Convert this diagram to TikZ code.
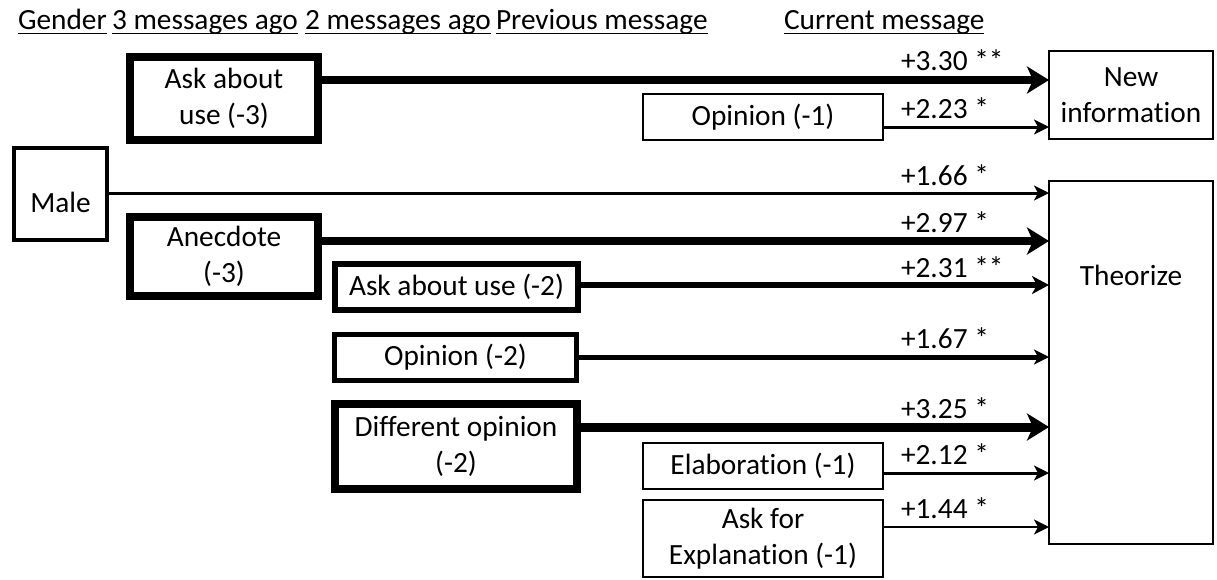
\documentclass[tikz,border=0pt]{standalone}
\usepackage{fontspec}
\setmainfont[Ligatures=NoCommon]{Carlito}
\usetikzlibrary{arrows.meta}
\newcommand{\tnolig}{t\kern0pt i}
\begin{document}
\begin{tikzpicture}[x=1pt,y=-1pt,
  every node/.style={font=\fontsize{29.33}{35.8}\selectfont, inner sep=0pt, outer sep=0pt},
  box/.style={draw, align=center, rectangle},
  hdr/.style={anchor=base west},
  lbl/.style={anchor=base west},
  tipS/.style={-{Stealth[length=15pt,width=15pt,inset=4pt]}},
  tipM/.style={-{Stealth[length=17pt,width=18pt,inset=5pt]}},
  tipL/.style={-{Stealth[length=22pt,width=27pt,inset=6pt]}},
  uline/.style={line width=1.8pt}
]
\useasboundingbox (0,0) rectangle (1217,579);

% headers
\node[hdr] (h1) at (18,29) {Gender};
\node[hdr] (h2) at (112,29) {3 messages ago};
\node[hdr] (h3) at (305,29) {2 messages ago};
\node[hdr] (h4) at (496,29) {Previous message};
\node[hdr] (h5) at (784,29) {Current message};
\foreach \h in {h1,h2,h3,h4,h5}
  \draw[uline] ([yshift=-4.5pt]\h.base west) -- ([yshift=-4.5pt]\h.base east);

% boxes
\node[box, line width=8pt, minimum width=188pt, minimum height=83pt] (askuseA) at (224,98.5) {Ask about\\use (-3)};
\node[box, line width=4pt, minimum width=93pt, minimum height=92pt] (male) at (60.5,194) {};
\node[anchor=base] (maleT) at (60.5,212) {Male};
\node[box, line width=8pt, minimum width=188pt, minimum height=79pt] (anec) at (224,256.5) {Anecdote\\(-3)};
\node[box, line width=6pt, minimum width=243pt, minimum height=46pt] (askuseB) at (456.5,287) {Ask about use (-2)};
\node[box, line width=5pt, minimum width=242pt, minimum height=46pt] (opinB) at (455.5,357.5) {Opinion (-2)};
\node[box, line width=8pt, minimum width=242pt, minimum height=85pt] (diffop) at (456,446.5) {Different opinion\\(-2)};
\node[box, line width=2pt, minimum width=240pt, minimum height=46pt] (opinC) at (763,117) {Opinion (-1)};
\node[box, line width=2pt, minimum width=240pt, minimum height=46pt] (elab) at (763,466) {Elabora\tnolig on (-1)};
\node[box, line width=2pt, minimum width=240pt, minimum height=77pt] (askexp) at (763,538.5) {Ask for\\Explana\tnolig on (-1)};
\node[box, line width=2pt, minimum width=164pt, minimum height=88pt] (newinfo) at (1131,95) {New\\informa\tnolig on};
\node[box, line width=2pt, minimum width=164pt, minimum height=363pt] (theor) at (1131,362.5) {};
\node[anchor=base] (theorT) at (1131,285) {Theorize};

% connectors
\draw[line width=8pt, tipL] (askuseA.east |- 0,80) -- (newinfo.west |- 0,80);
\draw[line width=3pt, tipS] (opinC.east |- 0,127) -- (newinfo.west |- 0,127);
\draw[line width=3pt, tipS] (male.east |- 0,193) -- (theor.west |- 0,193);
\draw[line width=8pt, tipL] (anec.east |- 0,241) -- (theor.west |- 0,241);
\draw[line width=6pt, tipM] (askuseB.east |- 0,285) -- (theor.west |- 0,285);
\draw[line width=5pt, tipS] (opinB.east |- 0,357) -- (theor.west |- 0,357);
\draw[line width=9pt, tipL] (diffop.east |- 0,427) -- (theor.west |- 0,427);
\draw[line width=3pt, tipS] (elab.east |- 0,473) -- (theor.west |- 0,473);
\draw[line width=2pt, tipS] (askexp.east |- 0,527) -- (theor.west |- 0,527);

% labels
\node[lbl] (l1) at (901,70) {+3.30 **};
\node[lbl] (l2) at (901,118) {+2.23 *};
\node[lbl] (l3) at (901,185) {+1.66 *};
\node[lbl] (l4) at (901,232) {+2.97 *};
\node[lbl] (l5) at (901,277) {+2.31 **};
\node[lbl] (l6) at (901,348) {+1.67 *};
\node[lbl] (l7) at (901,418) {+3.25 *};
\node[lbl] (l8) at (901,464) {+2.12 *};
\node[lbl] (l9) at (901,518) {+1.44 *};
\end{tikzpicture}
\end{document}
